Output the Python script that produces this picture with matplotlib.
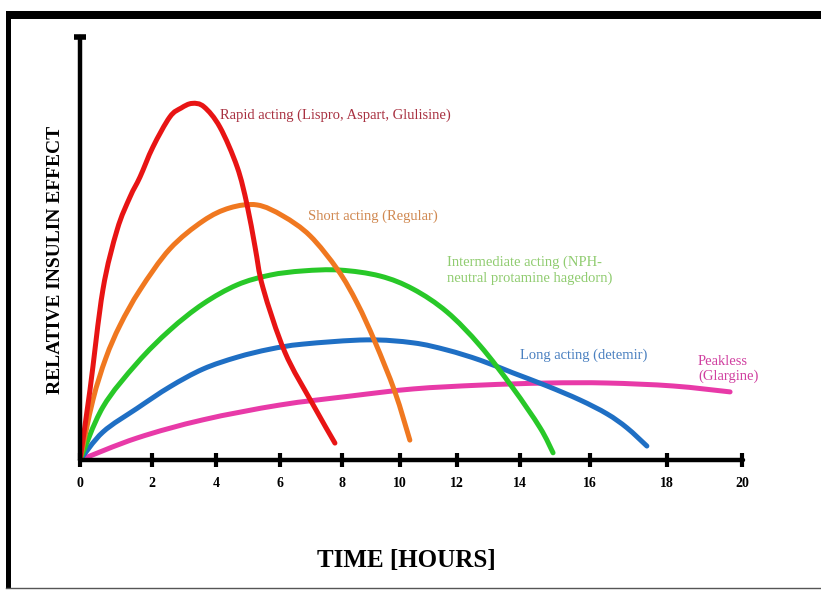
import numpy as np
import matplotlib
matplotlib.use("Agg")
import matplotlib.pyplot as plt
from matplotlib.patches import Rectangle, PathPatch
from matplotlib.path import Path
from matplotlib.lines import Line2D

# curves: time axis vs relative effect (0-100)
rapid_x = [0, 0.30, 0.69, 1.12, 1.51, 1.81, 2.20, 2.71, 3.05, 3.38, 3.74, 4.22, 4.74, 5.04, 5.28, 5.52, 6.18, 7.00, 7.69]
rapid_y = [0, 16.5, 40.2, 54.4, 62.2, 66.9, 74.0, 81.1, 83.2, 84.3, 83.5, 78.7, 69.3, 60.3, 50.4, 40.7, 25.5, 13.5, 4.0]

short_x = [0, 0.39, 0.78, 1.21, 1.81, 2.71, 3.71, 4.52, 5.34, 6.12, 6.94, 7.78, 8.36, 8.90, 9.50, 9.95]
short_y = [0, 14.2, 24.1, 31.9, 40.2, 49.9, 56.5, 59.6, 60.3, 57.7, 53.0, 44.9, 37.1, 27.9, 16.1, 4.7]

inter_x = [0, 0.69, 1.72, 2.71, 3.71, 4.74, 5.73, 6.73, 7.84, 9.05, 10.05, 11.07, 12.07, 13.06, 13.88, 14.27]
inter_y = [0, 12.5, 22.9, 30.7, 36.9, 41.4, 43.7, 44.7, 44.9, 43.5, 40.4, 35.0, 27.0, 17.0, 7.6, 1.7]

long_x = [0, 0.69, 1.72, 2.71, 3.71, 4.74, 5.73, 6.73, 8.66, 10.05, 11.07, 12.07, 13.06, 14.09, 15.08, 15.90, 16.50, 17.10]
long_y = [0, 6.6, 12.2, 17.3, 21.5, 24.3, 26.2, 27.4, 28.4, 27.7, 26.0, 23.6, 20.6, 17.5, 14.2, 10.9, 7.6, 3.3]

peak_x = [0, 1.72, 3.71, 6.03, 8.14, 10.05, 12.07, 14.09, 15.90, 17.89, 19.61]
peak_y = [0, 5.2, 9.5, 13.0, 15.1, 16.8, 17.7, 18.2, 18.2, 17.5, 16.1]

labels = ["Rapid acting (Lispro, Aspart, Glulisine)",
          "Short acting (Regular)",
          "Intermediate acting (NPH-\nneutral protamine hagedorn)",
          "Long acting (detemir)",
          "Peakless\n(Glargine)"]
line_colors = ["#e81414", "#f07820", "#28c828", "#1f6fc4", "#e83aa8"]
text_colors = ["#a83040", "#d08850", "#90cc70", "#4a80c0", "#d040a0"]
label_pos = [(4.22, 81.6), (6.88, 57.7), (11.07, 44.9), (13.27, 24.8), (18.64, 21.5)]

hour_labels = ["0", "2", "4", "6", "8", "10", "12", "14", "16", "18", "20"]
# the hand-drawn axis has unevenly spaced tick marks
tick_at = [0, 2.17, 4.10, 6.03, 7.90, 9.65, 11.37, 13.27, 15.38, 17.71, 19.97]


def smooth_path(xs, ys):
    # draw the read points as one smooth bezier (catmull-rom style handles)
    p = np.column_stack([xs, ys]).astype(float)
    verts = [p[0]]
    codes = [Path.MOVETO]
    n = len(p)
    for i in range(n - 1):
        p0 = p[i - 1] if i > 0 else p[i]
        p3 = p[i + 2] if i + 2 < n else p[i + 1]
        c1 = p[i] + (p[i + 1] - p0) / 6
        c2 = p[i + 1] - (p3 - p[i]) / 6
        verts += [c1, c2, p[i + 1]]
        codes += [Path.CURVE4] * 3
    return Path(verts, codes)


plt.rcParams['font.family'] = ['Liberation Serif', 'DejaVu Serif']

fig = plt.figure(figsize=(8.21, 5.92), dpi=100)
ax = fig.add_axes([80 / 821, 132 / 592, 663 / 821, 423 / 592])

series = [(rapid_x, rapid_y), (short_x, short_y), (inter_x, inter_y),
          (long_x, long_y), (peak_x, peak_y)]
for (xs, ys), c in zip(series[::-1], line_colors[::-1]):
    ax.add_patch(PathPatch(smooth_path(xs, ys), fill=False, edgecolor=c, lw=3.6,
                           capstyle='round', joinstyle='round'))

for text, c, (tx, ty) in zip(labels, text_colors, label_pos):
    ax.text(tx, ty, text, color=c, fontsize=10.5, ha='left', va='center', linespacing=1.2)

ax.set_xlim(0, 20)
ax.set_ylim(0, 100)
for s in ['top', 'right']:
    ax.spines[s].set_visible(False)
for s in ['left', 'bottom']:
    ax.spines[s].set_linewidth(3.2)
    ax.spines[s].set_capstyle('round')
ax.set_xticks(tick_at)
ax.set_xticklabels(hour_labels, fontsize=10, fontweight='bold')
ax.tick_params(axis='x', direction='inout', length=10, width=3, pad=7)
ax.set_yticks([])
# cap on top of y axis
ax.plot([0], [100], marker='_', ms=8, mew=4, color='black', clip_on=False)

fig.text(406 / 821, 1 - 560 / 592, "TIME [HOURS]", fontsize=18, fontweight='bold',
         ha='center', va='center')
fig.text(55 / 821, 1 - 260 / 592, "RELATIVE INSULIN EFFECT", fontsize=14,
         fontweight='bold', rotation=90, ha='center', va='center')

# picture frame
fig.add_artist(Rectangle((6 / 821, 1 - 19 / 592), 1, 8 / 592, transform=fig.transFigure,
                         color='black', lw=0))
fig.add_artist(Rectangle((6 / 821, 4 / 592), 5 / 821, 1 - 15 / 592, transform=fig.transFigure,
                         color='black', lw=0))
fig.add_artist(Line2D([6 / 821, 1], [4 / 592, 4 / 592], transform=fig.transFigure,
                      color='#555555', lw=1))

fig.savefig("out.png", dpi=100)
